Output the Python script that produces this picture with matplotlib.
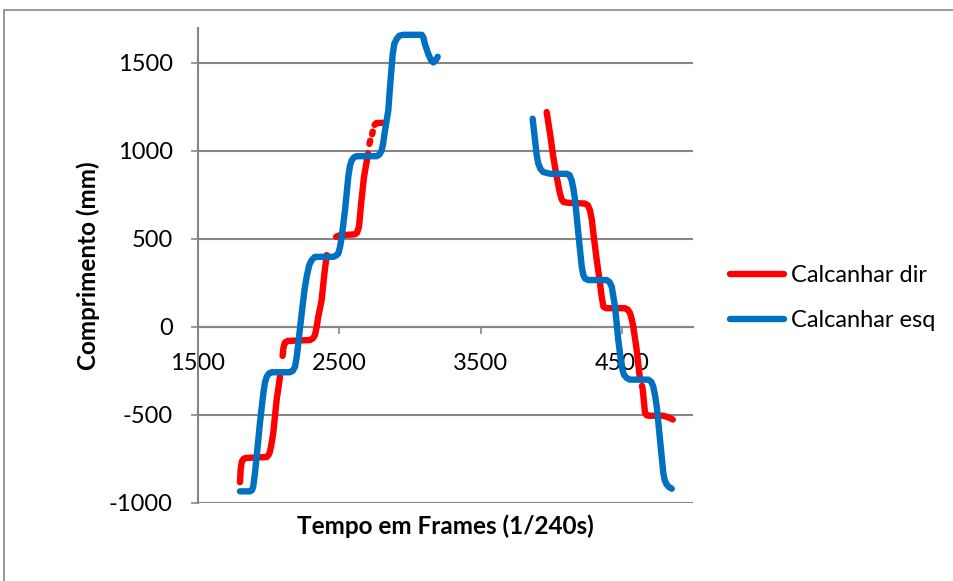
import numpy as np
import matplotlib
matplotlib.use('Agg')
import matplotlib.pyplot as plt
from matplotlib.patches import Rectangle

plt.rcParams['font.family'] = ['Lato', 'DejaVu Sans']
plt.rcParams['axes.unicode_minus'] = False

nan = np.nan

# Calcanhar dir (red) - nan marks missing frames
red_x = [1799, 1804, 1812, 1825, 1840, 1988, 2000, 2011, 2022, 2034, 2058,
         2082, nan,
         2100, 2106, 2116, 2135, 2294, 2315, 2329, 2340, 2352, 2376, 2395,
         2412, nan,
         2478, 2485, nan,
         2495, 2506, 2600, 2615, 2626, 2640, 2655, 2675, 2704, nan,
         2714, 2719, nan,
         2733, 2737, nan,
         2750, 2762, 2810, nan,
         3966, 3990, 4013, 4037, 4060, 4072, 4084, 4119, 4237, 4258, 4272,
         4285, 4296, 4320, 4343, 4355, 4367, 4385, 4402, 4520, 4540, 4555,
         4567, 4578, 4602, 4626, nan,
         4640, 4645, 4655, 4661, 4672, 4684, 4790, 4838, 4857]
red_y = [-883, -810, -765, -750, -745, -740, -730, -708, -665, -604, -415,
         -282, nan,
         -165, -120, -90, -80, -75, -65, -46, -5, 57, 152, 300,
         408, nan,
         512, 515, nan,
         518, 521, 525, 528, 535, 570, 700, 850, 986, nan,
         1040, 1058, nan,
         1095, 1110, nan,
         1148, 1158, 1160, nan,
         1221, 1098, 965, 852, 758, 725, 710, 705, 701, 690, 663,
         610, 531, 380, 248, 170, 115, 106, 106, 106, 98, 78,
         45, 2, -130, -300, nan,
         -335, -357, -440, -489, -502, -505, -505, -518, -527]

# Calcanhar esq (blue)
blue_x = [1799, 1870, 1884, 1893, 1905, 1917, 1940, 1964, 1976, 1988, 2005,
          2023, 2152, 2172, 2188, 2200, 2211, 2235, 2255, 2270, 2288, 2306,
          2329, 2458, 2478, 2494, 2506, 2518, 2541, 2564, 2576, 2588, 2605,
          2624, 2765, 2785, 2800, 2812, 2824, 2847, 2859, 2878, 2890, 2906,
          2925, 2953, 3083, 3095, 3106, 3130, 3150, 3165, 3180, 3196, nan,
          3867, 3884, 3895, 3907, 3922, 3942, 3990, 4108, 4128, 4143, 4155,
          4167, 4190, 4214, 4225, 4237, 4260, 4390, 4410, 4426, 4449, 4472,
          4496, 4512, 4532, 4555, 4684, 4705, 4719, 4732, 4744, 4767, 4790,
          4800, 4814, 4830, 4850]
blue_y = [-935, -935, -928, -906, -830, -736, -547, -377, -315, -283, -264,
          -258, -258, -250, -226, -170, -94, 76, 210, 284, 350, 380,
          398, 398, 405, 417, 455, 511, 662, 851, 915, 946, 964,
          970, 970, 980, 1002, 1050, 1117, 1230, 1362, 1550, 1610, 1636,
          1655, 1660, 1660, 1645, 1607, 1550, 1515, 1503, 1512, 1535, nan,
          1183, 1059, 980, 928, 898, 880, 870, 870, 862, 832, 785,
          720, 530, 341, 295, 275, 266, 266, 255, 228, 115, -74,
          -225, -272, -291, -300, -300, -312, -338, -390, -452, -641, -829,
          -870, -896, -910, -920]

x_ticks = [1500, 2500, 3500, 4500]
y_ticks = [-1000, -500, 0, 500, 1000, 1500]

grid_col = '#868686'

fig = plt.figure(figsize=(9.54, 5.81), dpi=100)
ax = fig.add_axes([0.2072, 0.1346, 0.5192, 0.8176])

# chart border (only top and left edges fall inside the image)
fig.patches.append(Rectangle((4 / 954, -0.05), 1.1, 1 - 10 / 581 + 0.05,
                             transform=fig.transFigure, fill=False,
                             edgecolor=grid_col, lw=1.2))

ax.plot(red_x, red_y, color='#FF0000', lw=4.6, solid_capstyle='round',
        solid_joinstyle='round', label='Calcanhar dir', zorder=3)
ax.plot(blue_x, blue_y, color='#0070C0', lw=4.6, solid_capstyle='round',
        solid_joinstyle='round', label='Calcanhar esq', zorder=3)

ax.set_xlim(1500, 5000)
ax.set_ylim(-1000, 1700)
ax.set_xticks(x_ticks)
ax.set_yticks(y_ticks)

ax.yaxis.grid(True, color=grid_col, lw=1.5)
ax.set_axisbelow(True)
for s in ['top', 'right']:
    ax.spines[s].set_visible(False)
ax.spines['bottom'].set_position(('data', 0))
ax.spines['bottom'].set_color(grid_col)
ax.spines['bottom'].set_linewidth(1.5)
ax.spines['left'].set_color(grid_col)
ax.spines['left'].set_linewidth(1.5)

ax.tick_params(axis='x', direction='out', length=5, width=1.2, color=grid_col,
               labelsize=17, pad=14)
ax.tick_params(axis='y', direction='out', length=5, width=1.2, color=grid_col,
               labelsize=17, pad=13)

fig.text(445 / 954, 1 - 526 / 581, 'Tempo em Frames (1/240s)', fontsize=17.5,
         fontweight='bold', ha='center', va='center')
fig.text(88 / 954, 1 - 266 / 581, 'Comprimento (mm)', fontsize=17.5,
         fontweight='bold', ha='center', va='center', rotation=90)

fig.legend(loc='center left', bbox_to_anchor=(730 / 954, 1 - 298 / 581),
           frameon=False, fontsize=17, handlelength=2.3, handletextpad=0.3,
           labelspacing=1.0, borderpad=0, borderaxespad=0)

fig.savefig('out.png', dpi=100)
